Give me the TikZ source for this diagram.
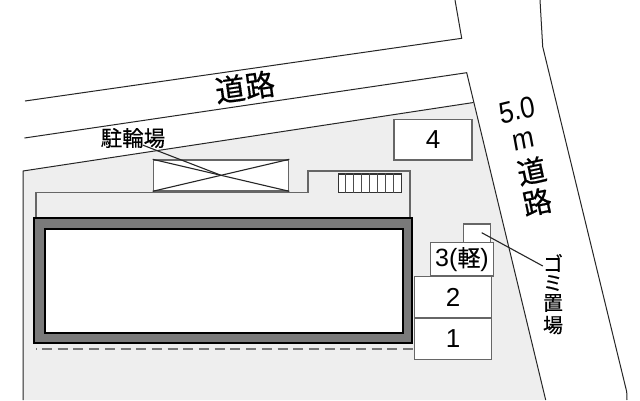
\documentclass[tikz,border=0pt]{standalone}
\usepackage{fontspec}
\setmainfont{Liberation Sans}
\newfontfamily\cjk[FakeBold=0.5]{Noto Sans CJK JP}
\usetikzlibrary{positioning, calc}
\definecolor{lotgray}{HTML}{EEEEEE}
\definecolor{wallgray}{HTML}{666666}
\definecolor{hallgray}{HTML}{7A7A7A}
\tikzset{
    plot/.style={draw=wallgray, fill=white, line width=1.3pt, inner sep=0pt, minimum width=#1},
    kanji/.style={inner sep=0pt, font=\cjk\fontsize{#1}{#1}\selectfont},
    road/.style={draw=black!85, line width=1pt},
    leader/.style={draw=black!85, line width=1.1pt},
    wide/.style={inner sep=0pt, xscale=.87, font=\fontsize{30}{30}\selectfont},
}
\begin{document}
\begin{tikzpicture}[x=1pt, y=-1pt]
        \useasboundingbox[fill=white] (0,0) rectangle (640,400);

        % lot and roads
        \fill[lotgray] (23,171) -- (473.5,102.5) -- (545.7,400) -- (23,400) -- cycle;
        \draw[road] (23,400) -- (23,171) -- (473.5,102.5);
        \draw[road] (25,101) -- (461.7,38.3) -- (455,0);
        \draw[road] (24.5,138) -- (466.7,72.7) -- (545.7,400);
        \draw[road] (540,0) -- (542.7,46.7) -- (626.7,391.7) -- (627,400);

        % outline behind the building
        \draw[wallgray, line width=1.2pt] (36,218) -- (36,192.7) -- (308,192.7) -- (308,171) -- (410,171) -- (410,218);

        % building
        \node[draw=black, fill=hallgray, line width=2pt, inner sep=0pt, minimum width=378pt, minimum height=124.2pt] (hall) at (223.3,280.4) {};
        \node[draw=black, fill=white, line width=2pt, inner sep=0pt, minimum width=358.5pt, minimum height=104.3pt] (room) at (223.75,280.65) {};

        % bicycle rack
        \node[plot=135.4pt, minimum height=30.7pt] (rack) at (221,175.3) {};
        \draw[wallgray, line width=2pt] (rack.south west) -- (rack.south east);
        \draw[leader] (rack.north west) -- (rack.center);
        \draw[leader] (rack.south west) -- (rack.north east);
        \node[kanji=21.5pt] (bikes) at (133,138) {駐輪場};
        \draw[leader] ([xshift=10pt,yshift=3pt]bikes.south) -- (rack.center) -- (rack.south east);

        % stairs
        \node[draw=black!80, fill=white, line width=1.2pt, inner sep=0pt, minimum width=63.4pt, minimum height=18.3pt] (stairs) at (370,183.2) {};
        \foreach \i in {1,...,7}
            \draw[black!70, line width=1pt] ($(stairs.north west)+(7.92*\i,0)$) -- ($(stairs.south west)+(7.92*\i,0)$);

        % parking
        \node[plot=78pt, minimum height=40.7pt, font=\fontsize{26}{26}\selectfont] (p4) at (433,139.7) {4};
        \node[plot=27.4pt, minimum height=18.7pt] (bin) at (477,233.3) {};
        \node[plot=62.6pt, minimum height=33.3pt, font=\fontsize{25}{25}\selectfont] (p3) at (462,259.4) {3({\cjk\fontsize{23}{23}\selectfont 軽})};
        \node[plot=77.4pt, minimum height=41.3pt, font=\fontsize{26}{26}\selectfont] (p2) at (453,297.4) {2};
        \node[plot=77.4pt, minimum height=41.3pt, font=\fontsize{26}{26}\selectfont] (p1) at (453,338.7) {1};

        % dashed line under the building
        \coordinate (dashA) at (36,349);
        \coordinate (dashB) at (414,349);
        \draw[wallgray!90, line width=1.8pt, dash pattern=on 10pt off 5.7pt, dash phase=9.7pt] (dashA) -- (dashB);

        % labels
        \node[kanji=30pt, rotate=8] (roadtop) at (245,87) {道路};
        \node[wide, rotate=12] (width) at (517,110) {5.0};
        \node[wide, rotate=12] (unit) at (524,141) {m};
        \node[kanji=29pt, rotate=12] (roadA) at (531.7,171) {道};
        \node[kanji=29pt, rotate=12] (roadB) at (537,202) {路};

        \node[kanji=20pt] (g1) at (553,263) {ゴ};
        \node[kanji=20pt] (g2) at (553,283) {ミ};
        \node[kanji=20pt] (g3) at (553,303) {置};
        \node[kanji=20pt] (g4) at (553,325) {場};
        \coordinate (binTip) at (481.7,232.7);
        \draw[leader] (binTip) -- ([yshift=-3pt]g1.west);
    \end{tikzpicture}
\end{document}
